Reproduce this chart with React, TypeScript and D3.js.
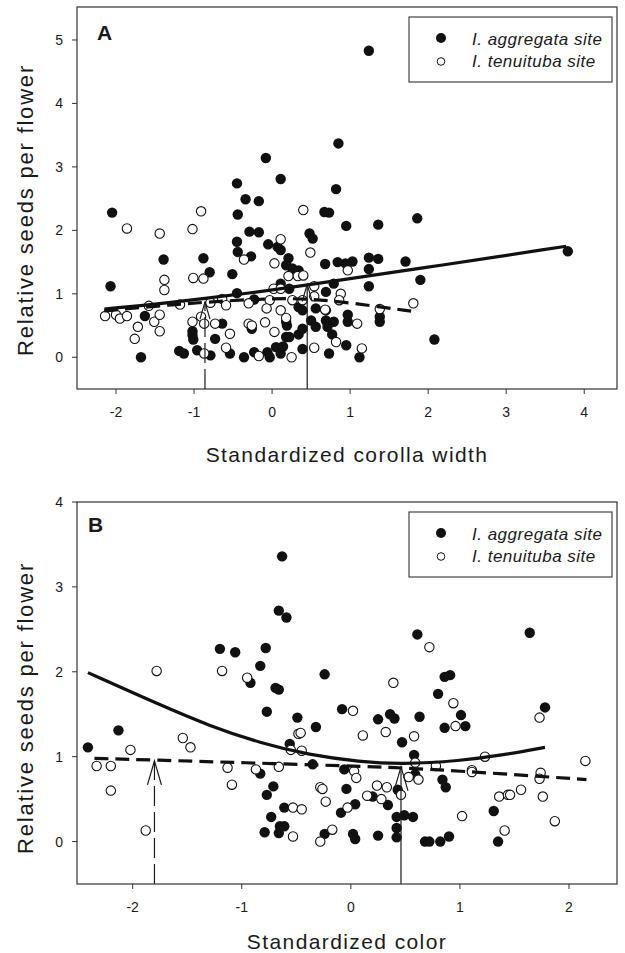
import React from 'react';
import * as d3 from 'd3';

type Pt = [number, number];

// ---------- Panel A: corolla width ----------
const aggregataA: Pt[] = [
  [-0.08, 3.14], [-0.45, 2.74], [0.11, 2.81], [0.85, 3.37], [0.82, 2.65], [-0.34, 2.49], [-0.17, 2.46],
  [1.24, 4.83], [-2.05, 2.28], [-0.44, 2.25], [0.67, 2.29], [0.73, 2.28], [0.95, 2.07], [-0.29, 1.98],
  [-0.17, 1.97], [0.48, 1.95], [0.52, 1.87], [-0.45, 1.82], [-0.44, 1.66], [-0.05, 1.78], [0.07, 1.74],
  [0.11, 1.69], [-0.27, 1.59], [0.21, 1.56], [-1.39, 1.54], [-0.88, 1.56], [0.18, 1.45], [0.26, 1.4],
  [0.34, 1.37], [0.68, 1.47], [0.84, 1.5], [0.94, 1.48], [1.03, 1.51], [-0.8, 1.34], [-0.51, 1.31],
  [-2.07, 1.12], [0.11, 1.16], [0.22, 1.08], [-0.45, 1.01], [0.69, 1.03], [0.79, 1.16], [-0.23, 0.91],
  [0.34, 0.79], [0.39, 0.74], [0.56, 0.77], [0.69, 0.74], [-1.63, 0.65], [-1.02, 0.41], [-1.02, 0.35],
  [-1.01, 0.28], [-0.64, 0.53], [-0.73, 0.29], [-0.26, 0.45], [0.18, 0.56], [0.19, 0.5], [0.18, 0.32],
  [0.22, 0.32], [0.34, 0.36], [0.39, 0.45], [0.5, 0.58], [0.56, 0.48], [0.69, 0.58], [0.71, 0.48],
  [0.79, 0.56], [0.77, 0.36], [0.95, 0.19], [0.97, 0.67], [0.97, 0.56], [-1.68, 0.0], [-1.19, 0.1],
  [-1.13, 0.06], [-0.96, 0.11], [-0.79, 0.03], [-0.54, 0.06], [-0.36, 0.0], [-0.23, 0.08], [-0.06, 0.08],
  [-0.03, 0.0], [0.05, 0.16], [0.11, 0.06], [0.14, 0.17], [0.39, 0.13], [0.73, 0.06], [1.12, 0.0],
  [1.36, 2.09], [1.86, 2.19], [1.24, 1.57], [1.36, 1.55], [1.24, 1.39], [1.71, 1.51], [1.9, 1.22],
  [1.24, 1.12], [3.79, 1.67], [2.08, 0.28], [1.38, 0.64], [1.38, 0.56],
];
const tenuitubaA: Pt[] = [
  [-0.91, 2.3], [0.4, 2.32], [-1.86, 2.03], [-1.44, 1.95], [-1.02, 2.02], [0.11, 1.86], [0.49, 1.65],
  [-0.36, 1.54], [0.03, 1.48], [-1.38, 1.22], [-1.38, 1.06], [-1.01, 1.25], [-0.88, 1.24], [0.21, 1.28],
  [0.33, 1.28], [0.4, 1.29], [0.97, 1.37], [0.02, 1.08], [0.11, 1.08], [0.54, 1.12], [0.54, 0.96],
  [0.88, 1.0], [0.86, 0.9], [-1.58, 0.81], [-1.18, 0.83], [-0.79, 0.86], [-0.64, 0.92], [-0.59, 0.82],
  [-0.3, 0.85], [-0.03, 0.9], [-0.07, 0.77], [0.11, 0.74], [0.26, 0.9], [0.39, 0.9], [0.68, 0.75],
  [-2.14, 0.65], [-2.0, 0.67], [-1.95, 0.61], [-1.86, 0.65], [-1.72, 0.48], [-1.76, 0.29], [-1.51, 0.56],
  [-1.44, 0.67], [-1.44, 0.41], [-1.02, 0.56], [-0.91, 0.64], [-0.87, 0.53], [-0.73, 0.53], [-0.54, 0.37],
  [-0.3, 0.53], [-0.26, 0.5], [-0.09, 0.55], [0.03, 0.4], [0.18, 0.62], [-0.59, 0.15], [-0.87, 0.06],
  [-0.17, 0.02], [0.25, 0.0], [0.54, 0.15], [0.82, 0.24], [1.09, 0.53], [1.38, 0.76], [1.81, 0.85],
  [1.15, 0.14],
];
const fitSolidA: Pt[] = [[-2.15, 0.76], [-1.45, 0.84], [-0.17, 1.03], [0.35, 1.12], [1.9, 1.4], [3.77, 1.75]];
const fitDashedA: Pt[] = [[-2.15, 0.73], [-1.45, 0.81], [-0.86, 0.87], [0, 0.93], [0.5, 0.92], [1.0, 0.86], [1.82, 0.72]];
const optimaA = { dashed: [-0.86, 0.87] as Pt, solid: [0.45, 1.15] as Pt };
const xTicksA = [-2, -1, 0, 1, 2, 3, 4];
const yTicksA = [0, 1, 2, 3, 4, 5];

// ---------- Panel B: color ----------
const aggregataB: Pt[] = [
  [-0.63, 3.36], [-0.66, 2.72], [-0.59, 2.64], [-1.2, 2.27], [-1.06, 2.23], [-0.78, 2.28], [-0.83, 2.07],
  [-0.92, 1.87], [-0.66, 1.79], [-0.24, 1.97], [0.61, 2.44], [1.64, 2.46], [0.86, 1.94], [0.91, 1.96],
  [-2.41, 1.11], [-2.13, 1.31], [-0.77, 1.53], [-0.49, 1.46], [-0.32, 1.35], [-0.08, 1.56], [-0.56, 1.15],
  [-0.35, 0.91], [-0.83, 0.8], [-0.71, 0.65], [-0.77, 0.55], [-0.04, 0.62], [-0.06, 0.85], [-0.61, 0.4],
  [0.04, 0.44], [-0.09, 0.34], [-0.73, 0.29], [-0.65, 0.18], [-0.61, 0.18], [-0.66, 0.1], [-0.79, 0.11],
  [-0.24, 0.09], [0.02, 0.09], [0.04, 0.03], [0.8, 1.74], [0.25, 1.44], [0.36, 1.5], [0.4, 1.45],
  [0.63, 1.47], [1.01, 1.49], [0.86, 1.34], [1.05, 1.36], [0.47, 1.17], [1.78, 1.58], [0.58, 1.02],
  [0.59, 0.79], [0.84, 0.73], [0.87, 0.64], [0.43, 0.61], [0.2, 0.53], [0.34, 0.43], [0.42, 0.29],
  [0.49, 0.31], [0.57, 0.29], [0.42, 0.16], [0.42, 0.05], [0.25, 0.07], [0.68, 0.0], [0.72, 0.0],
  [0.82, 0.0], [0.9, 0.06], [1.31, 0.36], [1.35, 0.0], [-0.69, 1.81],
];
const tenuitubaB: Pt[] = [
  [-1.78, 2.01], [-1.18, 2.01], [-0.95, 1.93], [0.72, 2.29], [0.39, 1.87], [-2.33, 0.89], [-2.2, 0.89],
  [-2.02, 1.08], [-2.2, 0.6], [-1.88, 0.13], [-1.54, 1.22], [-1.47, 1.11], [-1.13, 0.87], [-1.09, 0.67],
  [-0.87, 0.85], [-0.66, 0.88], [-0.48, 1.27], [-0.46, 1.28], [-0.55, 1.08], [-0.45, 1.07], [-0.53, 0.4],
  [-0.45, 0.38], [-0.53, 0.06], [-0.28, 0.64], [-0.26, 0.62], [-0.23, 0.47], [-0.17, 0.14], [-0.28, 0.0],
  [0.02, 1.54], [-0.03, 0.4], [0.03, 0.83], [0.05, 0.75], [0.94, 1.63], [0.11, 1.25], [0.32, 1.29],
  [0.58, 1.24], [0.96, 1.36], [1.73, 1.46], [1.23, 1.0], [0.59, 0.93], [0.78, 0.89], [2.15, 0.95],
  [0.53, 0.76], [0.62, 0.73], [1.11, 0.84], [1.11, 0.82], [1.74, 0.81], [1.73, 0.74], [0.24, 0.66],
  [0.33, 0.64], [0.15, 0.54], [0.28, 0.5], [0.46, 0.55], [1.56, 0.61], [1.36, 0.53], [1.44, 0.55],
  [1.46, 0.55], [1.76, 0.53], [1.02, 0.3], [1.87, 0.24], [1.41, 0.13],
];
const fitSolidB: Pt[] = [
  [-2.41, 1.99], [-1.75, 1.61], [-1.29, 1.36], [-0.83, 1.16], [-0.38, 1.02], [0.08, 0.94],
  [0.47, 0.91], [1.0, 0.95], [1.4, 1.02], [1.78, 1.11],
];
const fitDashedB: Pt[] = [[-2.35, 0.98], [-1.8, 0.96], [-1.0, 0.93], [0, 0.89], [0.46, 0.87], [1.0, 0.83], [1.6, 0.78], [2.16, 0.73]];
const optimaB = { dashed: [-1.8, 0.95] as Pt, solid: [0.46, 0.88] as Pt };
const xTicksB = [-2, -1, 0, 1, 2];
const yTicksB = [0, 1, 2, 3, 4];

const legendLabels = ['I. aggregata site', 'I. tenuituba site'];

const FONT = '"Liberation Sans", Arial, Helvetica, sans-serif';
const INK = '#1a1a1a';
const fmt = (v: number) => String(v).replace('\u2212', '-');

type PanelProps = {
  letter: string;
  top: number;
  bottom: number;
  xDomain: [number, number];
  yDomain: [number, number];
  xTicks: number[];
  yTicks: number[];
  filled: Pt[];
  open: Pt[];
  solid: Pt[];
  dashed: Pt[];
  optima: { dashed: Pt; solid: Pt };
  xTitle: string;
  xTitleY: number;
  yTitleY: number;
  letterPos: [number, number];
  headLen: number;
  headHalf: number;
};

const LEFT = 77;
const RIGHT = 617;

function Panel(p: PanelProps) {
  const x = d3.scaleLinear().domain(p.xDomain).range([LEFT, RIGHT]);
  const y = d3.scaleLinear().domain(p.yDomain).range([p.bottom, p.top]);
  const lineGen = d3
    .line<Pt>()
    .x((d) => x(d[0]))
    .y((d) => y(d[1]))
    .curve(d3.curveBasis);

  const arrow = (pt: Pt, dashed: boolean) => {
    const px = x(pt[0]);
    const py = y(pt[1]);
    return (
      <g>
        <line x1={px} x2={px} y1={p.bottom} y2={py} stroke={INK} strokeWidth={1.2} strokeDasharray={dashed ? '20,6' : undefined} />
        <polyline
          points={`${px - p.headHalf},${py + p.headLen} ${px},${py} ${px + p.headHalf},${py + p.headLen}`}
          fill="none"
          stroke={INK}
          strokeWidth={1.2}
        />
      </g>
    );
  };

  const legX = 409;
  const legTop = p.top + 10;
  return (
    <g>
      {p.filled.map((d, i) => (
        <circle key={'f' + i} cx={x(d[0])} cy={y(d[1])} r={5.2} fill="#111" />
      ))}
      {p.open.map((d, i) => (
        <circle key={'o' + i} cx={x(d[0])} cy={y(d[1])} r={4.7} fill="#fff" stroke="#111" strokeWidth={1.1} />
      ))}
      <path d={lineGen(p.solid) || ''} fill="none" stroke="#111" strokeWidth={3.2} />
      <path d={lineGen(p.dashed) || ''} fill="none" stroke="#111" strokeWidth={3.2} strokeDasharray="14,7" />
      {arrow(p.optima.dashed, true)}
      {arrow(p.optima.solid, false)}
      <rect x={LEFT} y={p.top} width={RIGHT - LEFT} height={p.bottom - p.top} fill="none" stroke="#333" strokeWidth={1.2} />
      {p.xTicks.map((t) => (
        <g key={'xt' + t}>
          <line x1={x(t)} x2={x(t)} y1={p.bottom} y2={p.bottom + 5} stroke="#333" strokeWidth={1} />
          <text x={x(t)} y={p.bottom + 28} textAnchor="middle" fontFamily={FONT} fontSize={14} fill={INK}>
            {fmt(t)}
          </text>
        </g>
      ))}
      {p.yTicks.map((t) => (
        <g key={'yt' + t}>
          <line x1={LEFT - 5} x2={LEFT} y1={y(t)} y2={y(t)} stroke="#333" strokeWidth={1} />
          <text x={63} y={y(t) + 5} textAnchor="end" fontFamily={FONT} fontSize={14} fill={INK}>
            {fmt(t)}
          </text>
        </g>
      ))}
      <text x={(LEFT + RIGHT) / 2} y={p.xTitleY} textAnchor="middle" fontFamily={FONT} fontSize={21} letterSpacing={1.4} fill={INK}>
        {p.xTitle}
      </text>
      <text
        transform={`translate(33,${p.yTitleY}) rotate(-90)`}
        textAnchor="middle"
        fontFamily={FONT}
        fontSize={22}
        letterSpacing={1.8}
        fill={INK}
      >
        Relative seeds per flower
      </text>
      <text x={p.letterPos[0]} y={p.letterPos[1]} fontFamily={FONT} fontSize={21} fontWeight="bold" fill={INK}>
        {p.letter}
      </text>
      <rect x={legX} y={legTop} width={203} height={65} fill="#fff" stroke="#333" strokeWidth={1.1} />
      <circle cx={441} cy={legTop + 21} r={5} fill="#111" />
      <circle cx={441} cy={legTop + 44.5} r={3.8} fill="#fff" stroke="#111" strokeWidth={1} />
      <text x={472} y={legTop + 28} fontFamily={FONT} fontSize={17} fontStyle="italic" letterSpacing={0.5} fill={INK}>
        {legendLabels[0]}
      </text>
      <text x={472} y={legTop + 50} fontFamily={FONT} fontSize={17} fontStyle="italic" letterSpacing={0.5} fill={INK}>
        {legendLabels[1]}
      </text>
    </g>
  );
}

export default function App() {
  return (
    <div style={{ position: 'absolute', left: 0, top: 0 }}>
      <svg width={625} height={953} style={{ display: 'block', background: '#fff' }}>
        <rect x={0} y={0} width={625} height={953} fill="#fff" />
        <Panel
          letter="A"
          top={7}
          bottom={389}
          xDomain={[-2.5, 4.42]}
          yDomain={[-0.5, 5.52]}
          xTicks={xTicksA}
          yTicks={yTicksA}
          filled={aggregataA}
          open={tenuitubaA}
          solid={fitSolidA}
          dashed={fitDashedA}
          optima={optimaA}
          xTitle="Standardized corolla width"
          xTitleY={462}
          yTitleY={210}
          letterPos={[97, 40]}
          headLen={17}
          headHalf={5}
        />
        <Panel
          letter="B"
          top={502}
          bottom={884}
          xDomain={[-2.51, 2.44]}
          yDomain={[-0.5, 4]}
          xTicks={xTicksB}
          yTicks={yTicksB}
          filled={aggregataB}
          open={tenuitubaB}
          solid={fitSolidB}
          dashed={fitDashedB}
          optima={optimaB}
          xTitle="Standardized color"
          xTitleY={949}
          yTitleY={708}
          letterPos={[88, 532]}
          headLen={24}
          headHalf={7}
        />
      </svg>
    </div>
  );
}
